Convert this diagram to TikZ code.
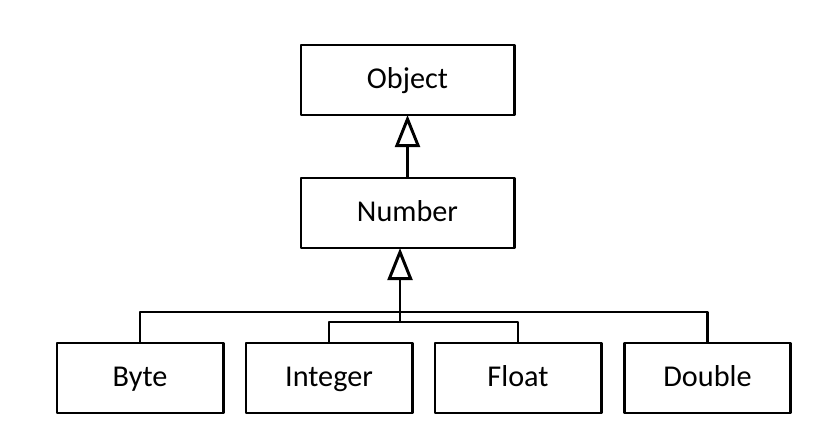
\documentclass[tikz,border=0pt]{standalone}
\usepackage{fontspec}
\setmainfont{Carlito}
\usetikzlibrary{arrows.meta}
\begin{document}
\begin{tikzpicture}[x=0.025cm,y=-0.025cm,line join=round,
  font=\fontsize{21.5}{26}\selectfont,
  classbox/.style={draw,line width=2.1pt,inner sep=0pt,outer sep=0pt,text height=16pt,text depth=4.6pt,minimum height=1.75cm,minimum width=4.15cm},
  widebox/.style={classbox,minimum width=5.325cm},
  inherit/.style={line width=2.1pt,-{Triangle[open,length=0.8cm,width=0.62cm,line width=2.1pt]}}]
  \useasboundingbox (0,0) rectangle (815,427);
  \node[widebox] (object) at (407.5,80) {Object};
  \node[widebox] (number) at (407.5,213) {Number};
  \node[classbox] (byte) at (140,378) {Byte};
  \node[classbox] (integer) at (329,378) {Integer};
  \node[classbox] (float) at (518,378) {Float};
  \node[classbox] (double) at (707.5,378) {Double};
  \coordinate (upbus) at (400,312);
  \coordinate (lowbus) at (400,322);
  \draw[inherit] (number.north) -- (object.south);
  \draw[line width=2.1pt] (byte.north) |- (upbus) -| (double.north);
  \draw[line width=2.1pt] (integer.north) |- (lowbus) -| (float.north);
  \draw[inherit] (lowbus) -- (lowbus |- number.south);
\end{tikzpicture}
\end{document}
